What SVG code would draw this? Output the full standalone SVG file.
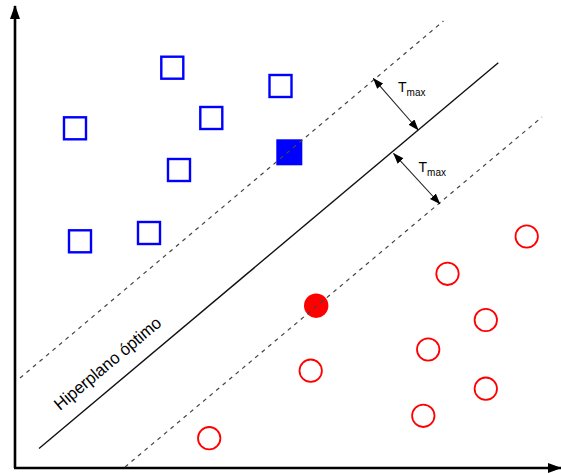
<svg xmlns="http://www.w3.org/2000/svg" width="561" height="474" viewBox="0 0 561 474">
  <defs>
    <marker id="axisHead" viewBox="0 0 14 10" refX="13" refY="5" markerWidth="14" markerHeight="10" markerUnits="userSpaceOnUse" orient="auto">
      <path d="M0,0 L14,5 L0,10 Z" fill="#000"/>
    </marker>
    <marker id="dimHead" viewBox="0 0 11 8" refX="10.5" refY="4" markerWidth="11" markerHeight="8" markerUnits="userSpaceOnUse" orient="auto-start-reverse">
      <path d="M0,0 L11,4 L0,8 Z" fill="#000"/>
    </marker>
    <style>
      .axis { stroke: #000; stroke-width: 2.6; fill: none; }
      .hyper { stroke: #111; stroke-width: 1.4; fill: none; }
      .margin { stroke: #444; stroke-width: 1.2; stroke-dasharray: 4 4.5; fill: none; }
      .dim { stroke: #222; stroke-width: 1.1; fill: none; }
      .sq { fill: none; stroke: #0000ff; stroke-width: 2.4; }
      .sq-sv { fill: #0000ff; stroke: none; }
      .ci { fill: none; stroke: #ff0000; stroke-width: 1.8; }
      .ci-sv { fill: #ff0000; stroke: none; }
      .lbl { font-family: "Liberation Sans", Arial, sans-serif; fill: #000; }
    </style>
  </defs>

  <!-- axes -->
  <g id="axes">
    <line class="axis" x1="15" y1="468" x2="15" y2="6" marker-end="url(#axisHead)"/>
    <line class="axis" x1="14" y1="468" x2="561" y2="468" marker-end="url(#axisHead)"/>
  </g>

  <!-- class A: squares -->
  <g id="squares">
    <rect id="sq1" class="sq" x="161.3" y="56.7" width="22" height="22"/>
    <rect id="sq2" class="sq" x="269.5" y="75" width="22" height="22"/>
    <rect id="sq3" class="sq" x="200.3" y="107" width="22" height="22"/>
    <rect id="sq4" class="sq" x="64" y="117.3" width="22" height="22"/>
    <rect id="sq5" class="sq" x="168" y="159" width="22" height="22"/>
    <rect id="sq6" class="sq" x="138" y="222" width="22" height="22"/>
    <rect id="sq7" class="sq" x="69" y="230.3" width="22" height="22"/>
    <rect id="sq-support" class="sq-sv" x="276.3" y="139.3" width="26" height="26"/>
  </g>

  <!-- class B: circles -->
  <g id="circles">
    <circle id="ci1" class="ci" cx="526.7" cy="236.5" r="11.2"/>
    <circle id="ci2" class="ci" cx="447.5" cy="273.8" r="11.2"/>
    <circle id="ci3" class="ci" cx="485.8" cy="320" r="11.2"/>
    <circle id="ci4" class="ci" cx="428.2" cy="349.5" r="11.2"/>
    <circle id="ci5" class="ci" cx="310.7" cy="370.7" r="11.2"/>
    <circle id="ci6" class="ci" cx="485.8" cy="388.7" r="11.2"/>
    <circle id="ci7" class="ci" cx="423.3" cy="415.8" r="11.2"/>
    <circle id="ci8" class="ci" cx="209.2" cy="438.2" r="11.2"/>
    <circle id="ci-support" class="ci-sv" cx="316.2" cy="305.7" r="12.2"/>
  </g>

  <!-- separating hyperplane, margins and margin widths -->
  <g id="connectors">
    <line class="margin" x1="20" y1="378" x2="443.5" y2="21"/>
    <line class="hyper" x1="39" y1="448.5" x2="498.3" y2="62.7"/>
    <line class="margin" x1="125" y1="467" x2="542" y2="117"/>
    <line class="dim" x1="373.3" y1="78.3" x2="418.3" y2="130" marker-start="url(#dimHead)" marker-end="url(#dimHead)"/>
    <line class="dim" x1="393.5" y1="153.3" x2="440" y2="204" marker-start="url(#dimHead)" marker-end="url(#dimHead)"/>
  </g>

  <!-- labels -->
  <g id="labels">
    <text class="lbl" x="398" y="92" font-size="14">T<tspan font-size="10" dy="4">max</tspan></text>
    <text class="lbl" x="418.5" y="172" font-size="14">T<tspan font-size="10" dy="4">max</tspan></text>
    <text class="lbl" font-size="17" textLength="134" lengthAdjust="spacingAndGlyphs" transform="translate(60,411) rotate(-40)">Hiperplano óptimo</text>
  </g>
</svg>
